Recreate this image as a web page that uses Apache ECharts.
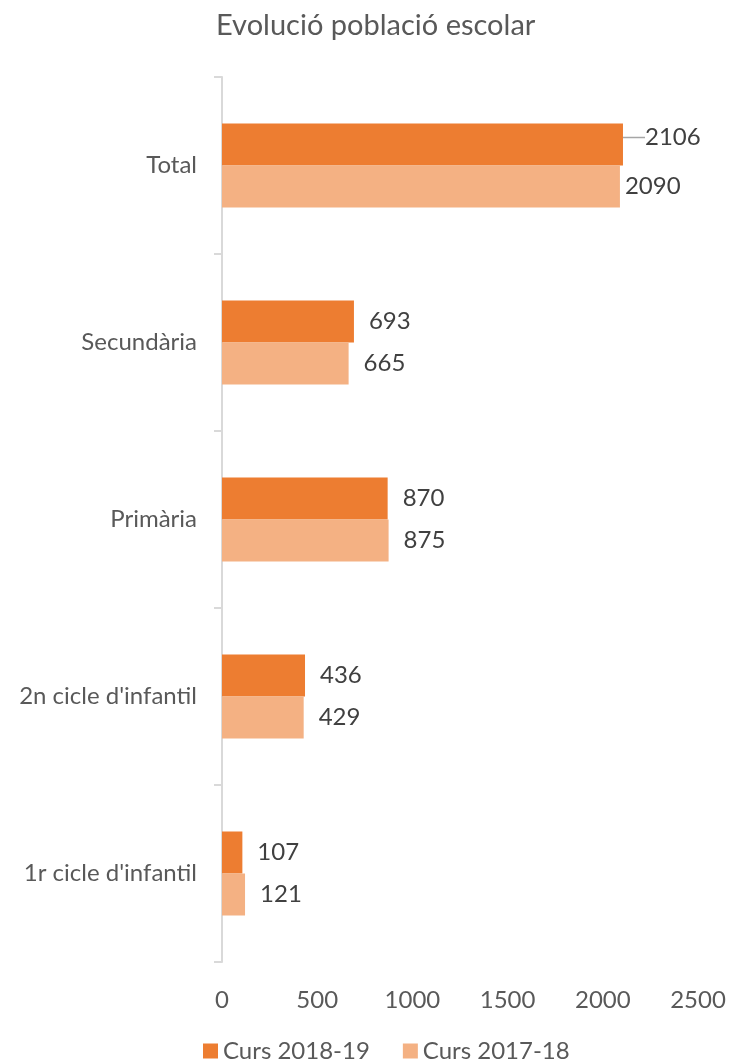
<!DOCTYPE html>
<html>
<head>
<meta charset="utf-8">
<title>Evolució població escolar</title>
<script src="https://cdn.jsdelivr.net/npm/echarts@6/dist/echarts.min.js"></script>
<style>
  html, body { margin: 0; padding: 0; background: #fff; }
  #chart { width: 735px; height: 1064px; }
</style>
</head>
<body>
<div id="chart"></div>
<script>
// categories from bottom to top (category axis grows upward)
const categories = ['1r cicle d\'infantil', '2n cicle d\'infantil', 'Primària', 'Secundària', 'Total']
const curs201819 = [107, 436, 870, 693, 2106]
const curs201718 = [121, 429, 875, 665, 2090]
const seriesNames = ['Curs 2018-19', 'Curs 2017-18']
const xTicks = [0, 500, 1000, 1500, 2000, 2500]

const textFont = 'Lato, "Open Sans", sans-serif'
const labelSize = 24

// Excel nudged the Total labels apart, so the last one gets its own distance
// (and the upper one a little leader line)
function withLabels(values, lastDistance, leader) {
  return values.map((v, i) => {
    if (i !== values.length - 1) return v
    const item = { value: v, label: { distance: lastDistance } }
    if (leader) item.labelLine = { show: true, lineStyle: { color: '#A6A6A6', width: 1.5 } }
    return item
  })
}

function valueLabel() {
  return {
    show: true,
    position: 'right',
    distance: 15,
    fontSize: labelSize,
    color: '#404040',
    fontFamily: textFont
  }
}

const chart = echarts.init(document.getElementById('chart'))
chart.setOption({
  animation: false,
  textStyle: { fontFamily: textFont },
  title: {
    text: 'Evolució població escolar',
    left: 211,
    top: 6,
    textStyle: {
      fontSize: 29,
      fontWeight: 'normal',
      color: '#595959',
      fontFamily: textFont
    }
  },
  legend: {
    data: seriesNames,
    bottom: -4,
    left: 198,
    itemWidth: 15,
    itemHeight: 15,
    itemGap: 33,
    icon: 'rect',
    textStyle: { fontSize: labelSize, color: '#595959', fontFamily: textFont }
  },
  grid: {
    left: 222,
    right: 37,
    top: 77,
    bottom: 102
  },
  xAxis: {
    type: 'value',
    min: xTicks[0],
    max: xTicks[xTicks.length - 1],
    interval: 500,
    axisLine: { show: false },
    axisTick: { show: false },
    splitLine: { show: false },
    axisLabel: {
      margin: 26,
      fontSize: labelSize,
      color: '#595959',
      fontFamily: textFont,
      formatter: v => String(v)
    }
  },
  yAxis: {
    type: 'category',
    data: categories,
    axisLine: { show: true, lineStyle: { color: '#D9D9D9', width: 2 } },
    axisTick: { show: true, length: 8, lineStyle: { color: '#D9D9D9', width: 2 } },
    axisLabel: {
      margin: 25,
      fontSize: labelSize,
      color: '#595959',
      fontFamily: textFont
    }
  },
  series: [
    {
      name: seriesNames[0],
      type: 'bar',
      data: withLabels(curs201819, 22, true),
      barWidth: 42,
      barGap: '0%',
      itemStyle: { color: '#ED7D31' },
      label: valueLabel(),
      labelLayout: params => (params.dataIndex === curs201819.length - 1 ? { dy: -7 } : {})
    },
    {
      name: seriesNames[1],
      type: 'bar',
      data: withLabels(curs201718, 5, false),
      barWidth: 42,
      barGap: '0%',
      itemStyle: { color: '#F4B183' },
      label: valueLabel()
    }
  ]
})
</script>
</body>
</html>
